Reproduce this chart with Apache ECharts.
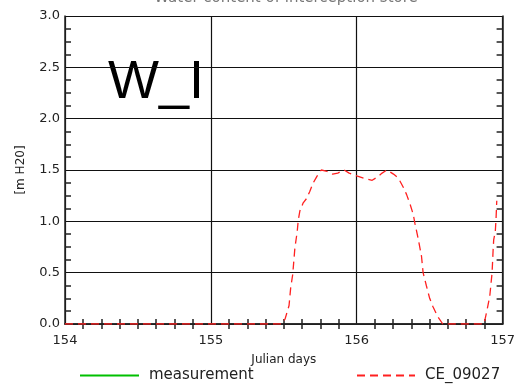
<!DOCTYPE html>
<html><head><meta charset="utf-8">
<script src="https://cdn.jsdelivr.net/npm/echarts@6/dist/echarts.min.js"></script>
<style>html,body{margin:0;padding:0;background:#fff}#c{width:518px;height:385px}</style>
</head><body><div id="c"></div>
<script>
const titleText = "Water content of interception store";
const xTitle = "Julian days";
const yTitle = "[m H20]";
const stationLabel = "W_I";
const xTicks = [154, 155, 156, 157];
const yTicks = [0.0, 0.5, 1.0, 1.5, 2.0, 2.5, 3.0];
const measurementDays = [];
const measurementVals = [];
const modelDays = [154.0, 155.486, 155.509, 155.536, 155.547, 155.561, 155.576, 155.592, 155.599, 155.61, 155.633, 155.655, 155.678, 155.70, 155.728, 155.757, 155.79, 155.835, 155.87, 155.914, 155.948, 156.005, 156.05, 156.106, 156.14, 156.174, 156.207, 156.252, 156.286, 156.32, 156.342, 156.365, 156.387, 156.399, 156.42, 156.444, 156.455, 156.478, 156.5, 156.522, 156.556, 156.59, 156.872, 156.876, 156.894, 156.912, 156.921, 156.928, 156.935, 156.939, 156.95, 156.955, 156.96];
const modelVals = [0.0, 0.0, 0.05, 0.18, 0.35, 0.48, 0.74, 0.90, 1.01, 1.10, 1.18, 1.22, 1.29, 1.37, 1.44, 1.50, 1.49, 1.46, 1.47, 1.50, 1.47, 1.44, 1.42, 1.40, 1.43, 1.47, 1.50, 1.46, 1.42, 1.33, 1.26, 1.17, 1.07, 0.98, 0.84, 0.66, 0.50, 0.37, 0.25, 0.17, 0.07, 0.0, 0.0, 0.02, 0.14, 0.27, 0.40, 0.50, 0.72, 0.82, 0.90, 1.02, 1.20];
const seriesNames = ["measurement", "CE_09027"];

const chart = echarts.init(document.getElementById('c'));
const FONT = "DejaVu Sans";
const frame = {show:true, lineStyle:{color:'#222', width:1.5}};
const tickX = {show:true, inside:true, length:0, lineStyle:{color:'#222', width:1.5}};
const tickY = {show:true, inside:true, length:0, lineStyle:{color:'#222', width:1.5}};
const minorX = {show:true, splitNumber:8, length:5, lineStyle:{color:'#222', width:1.5}};
const minorY = {show:true, splitNumber:4, length:6, lineStyle:{color:'#222', width:1.5}};
const gridLine = {show:true, lineStyle:{color:'#111', width:1.2}};
const legendText = {fontFamily:FONT, fontSize:15, color:'#222', padding:[0,0,0,5]};
chart.setOption({
  animation:false,
  backgroundColor:'#fff',
  grid:{left:65, right:10, top:16, bottom:61},
  xAxis:[
    {type:'value', min:xTicks[0], max:xTicks[xTicks.length-1], interval:1, position:'bottom',
     name:xTitle, nameLocation:'middle', nameGap:30, nameTextStyle:{fontFamily:FONT, fontSize:12, color:'#222'},
     axisLine:frame, axisTick:tickX, minorTick:Object.assign({}, minorX),
     axisLabel:{fontFamily:FONT, fontSize:13, color:'#222', margin:10, showMaxLabel:true},
     splitLine:gridLine},
    {type:'value', min:xTicks[0], max:xTicks[xTicks.length-1], interval:1, position:'top',
     axisLine:frame, axisTick:tickX, minorTick:Object.assign({}, minorX), axisLabel:{show:false}, splitLine:{show:false}}
  ],
  yAxis:[
    {type:'value', min:yTicks[0], max:yTicks[yTicks.length-1], interval:0.5, position:'left',
     name:yTitle, nameLocation:'middle', nameGap:38, nameRotate:90, nameTextStyle:{fontFamily:FONT, fontSize:12, color:'#222'},
     axisLine:frame, axisTick:tickY, minorTick:Object.assign({}, minorY),
     axisLabel:{fontFamily:FONT, fontSize:13, color:'#222', margin:5, formatter:v=>v.toFixed(1)},
     splitLine:gridLine},
    {type:'value', min:yTicks[0], max:yTicks[yTicks.length-1], interval:0.5, position:'right',
     axisLine:frame, axisTick:tickY, minorTick:Object.assign({}, minorY), axisLabel:{show:false}, splitLine:{show:false}}
  ],
  legend:[
    {data:[seriesNames[0]], left:79, top:368, itemWidth:59, itemHeight:14, itemGap:10, padding:0,
     itemStyle:{opacity:0}, textStyle:legendText},
    {data:[seriesNames[1]], left:356, top:368, itemWidth:58, itemHeight:14, itemGap:11, padding:0,
     itemStyle:{opacity:0}, textStyle:legendText}
  ],
  graphic:[
    {type:'text', x:286, y:-9, style:{text:titleText, align:'center', verticalAlign:'top', font:'15px "DejaVu Sans", sans-serif', fill:'#777'}},
    {type:'text', left:108, top:56, style:{text:stationLabel, font:'54px "Liberation Sans", Arial, sans-serif', fill:'#000'}}
  ],
  series:[
    {name:seriesNames[0], type:'line', symbol:'none', color:'#00c000', lineStyle:{color:'#00c000', width:1.2},
     data:measurementDays.map((d,i)=>[d, measurementVals[i]])},
    {name:seriesNames[1], type:'line', symbol:'none', color:'#ff0000', clip:true,
     lineStyle:{color:'#ff2020', width:1.3, type:[8,5]},
     data:modelDays.map((d,i)=>[d, modelVals[i]])}
  ]
});
</script></body></html>
